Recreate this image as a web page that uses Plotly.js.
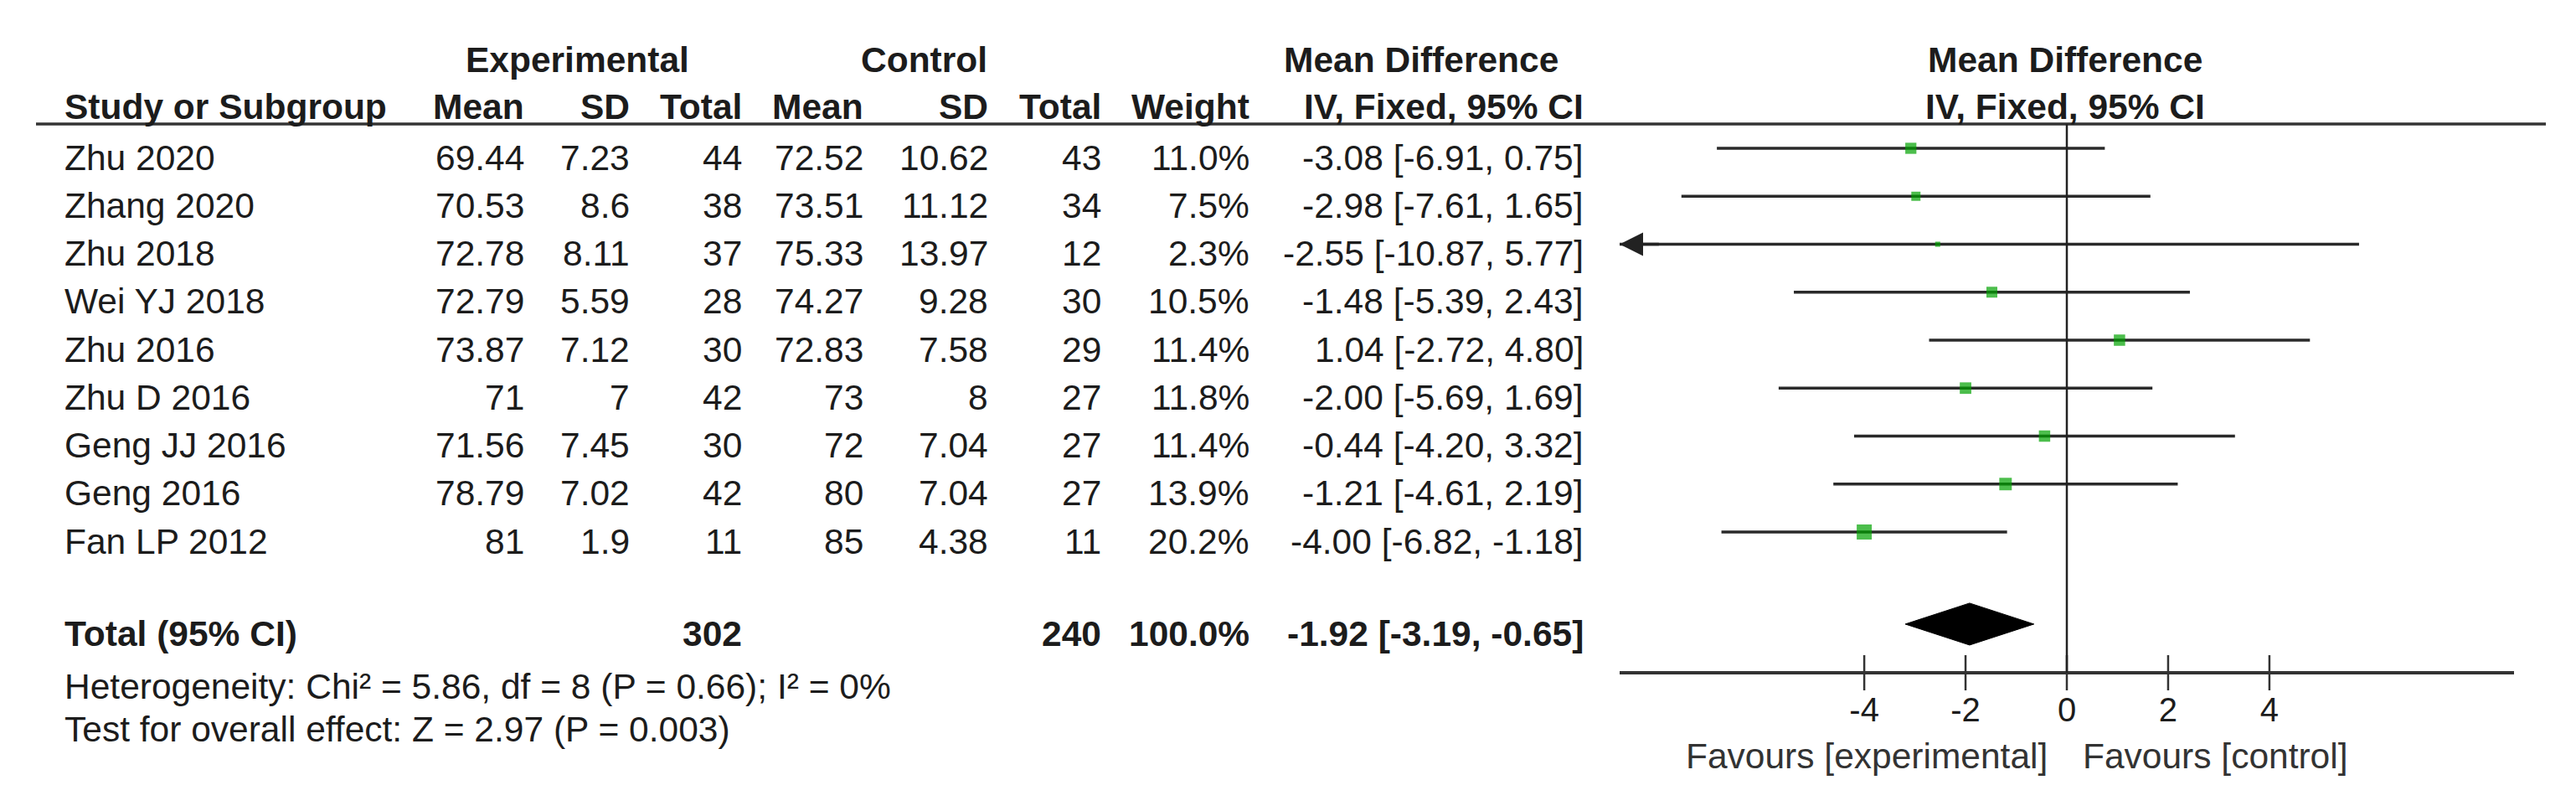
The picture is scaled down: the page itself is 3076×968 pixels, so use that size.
<!DOCTYPE html>
<html><head><meta charset="utf-8">
<script src="https://cdn.plot.ly/plotly-3.0.1.min.js"></script>
<style>html,body{margin:0;padding:0;background:#fff;} #chart{width:3076px;height:968px;}</style>
</head><body><div id="chart"></div>
<script>
// ---- data ----
const studies  = ["Zhu 2020","Zhang 2020","Zhu 2018","Wei YJ 2018","Zhu 2016","Zhu D 2016","Geng JJ 2016","Geng 2016","Fan LP 2012"];
const expMean  = [69.44, 70.53, 72.78, 72.79, 73.87, 71, 71.56, 78.79, 81];
const expSD    = [7.23, 8.6, 8.11, 5.59, 7.12, 7, 7.45, 7.02, 1.9];
const expN     = [44, 38, 37, 28, 30, 42, 30, 42, 11];
const ctrlMean = [72.52, 73.51, 75.33, 74.27, 72.83, 73, 72, 80, 85];
const ctrlSD   = [10.62, 11.12, 13.97, 9.28, 7.58, 8, 7.04, 7.04, 4.38];
const ctrlN    = [43, 34, 12, 30, 29, 27, 27, 27, 11];
const weights  = [11.0, 7.5, 2.3, 10.5, 11.4, 11.8, 11.4, 13.9, 20.2];
const md       = [-3.08, -2.98, -2.55, -1.48, 1.04, -2.00, -0.44, -1.21, -4.00];
const ciLo     = [-6.91, -7.61, -10.87, -5.39, -2.72, -5.69, -4.20, -4.61, -6.82];
const ciHi     = [0.75, 1.65, 5.77, 2.43, 4.80, 1.69, 3.32, 2.19, -1.18];
const totalExpN = 302, totalCtrlN = 240, totalWeight = 100.0;
const totalMD = -1.92, totalLo = -3.19, totalHi = -0.65;
const tickVals = [-4, -2, 0, 2, 4];
const tickLabels = ["-4", "-2", "0", "2", "4"];
const heterogeneityText = "Heterogeneity: Chi² = 5.86, df = 8 (P = 0.66); I² = 0%";
const overallText = "Test for overall effect: Z = 2.97 (P = 0.003)";

// ---- layout helpers ----
const W = 3076, H = 968;
const FONT = "Liberation Sans, Arial, sans-serif";
const FS = 42.5;
const ROW0 = 177, ROWH = 57.25;
const yTop = -ROW0 / ROWH, yBot = (H - ROW0) / ROWH;
const totalRow = 9.92;
const axisRow = (803 - ROW0) / ROWH;
const headerLineRow = (148 - ROW0) / ROWH;
const xRange = [-8.83, 8.83];
const TXT = "#1c1c1c";

const px = v => v / W;
const py = v => 1 - v / H;

const annotations = [];
function rowAnn(text, xpix, row, anchor, bold, shift) {
  annotations.push({
    text: bold ? "<b>" + text + "</b>" : text,
    xref: "paper", x: px(xpix), xanchor: anchor,
    yref: "y", y: row, yanchor: "middle", yshift: shift === undefined ? -11 : shift,
    showarrow: false, font: {family: FONT, size: FS, color: TXT}
  });
}
function pixAnn(text, xpix, ypix, anchor, bold, color) {
  annotations.push({
    text: bold ? "<b>" + text + "</b>" : text,
    xref: "paper", x: px(xpix), xanchor: anchor,
    yref: "paper", y: py(ypix), yanchor: "middle",
    showarrow: false, font: {family: FONT, size: FS, color: color || TXT}
  });
}

// column right edges (px)
const C = {study: 75, eMean: 628, eSD: 754, eN: 888, cMean: 1033, cSD: 1182, cN: 1317, wt: 1494, ci: 1893, forest: 2466};

// headers
pixAnn("Experimental", 689, 71, "center", true);
pixAnn("Control", 1103, 71, "center", true);
pixAnn("Mean Difference", 1697, 71, "center", true);
pixAnn("Mean Difference", C.forest, 71, "center", true);
pixAnn("Study or Subgroup", C.study, 127, "left", true);
pixAnn("Mean", C.eMean, 127, "right", true);
pixAnn("SD", C.eSD, 127, "right", true);
pixAnn("Total", C.eN, 127, "right", true);
pixAnn("Mean", C.cMean, 127, "right", true);
pixAnn("SD", C.cSD, 127, "right", true);
pixAnn("Total", C.cN, 127, "right", true);
pixAnn("Weight", C.wt, 127, "right", true);
pixAnn("IV, Fixed, 95% CI", C.ci, 127, "right", true);
pixAnn("IV, Fixed, 95% CI", C.forest, 127, "center", true);

const fmtCI = (m, l, h) => m.toFixed(2) + " [" + l.toFixed(2) + ", " + h.toFixed(2) + "]";

studies.forEach((s, i) => {
  rowAnn(s, C.study, i, "left");
  rowAnn(String(expMean[i]), C.eMean, i, "right");
  rowAnn(String(expSD[i]), C.eSD, i, "right");
  rowAnn(String(expN[i]), C.eN, i, "right");
  rowAnn(String(ctrlMean[i]), C.cMean, i, "right");
  rowAnn(String(ctrlSD[i]), C.cSD, i, "right");
  rowAnn(String(ctrlN[i]), C.cN, i, "right");
  rowAnn(weights[i].toFixed(1) + "%", C.wt, i, "right");
  rowAnn(fmtCI(md[i], ciLo[i], ciHi[i]), C.ci, i, "right");
});

// total row
rowAnn("Total (95% CI)", C.study, totalRow, "left", true, -12);
rowAnn(String(totalExpN), C.eN, totalRow, "right", true, -12);
rowAnn(String(totalCtrlN), C.cN, totalRow, "right", true, -12);
rowAnn(totalWeight.toFixed(1) + "%", C.wt, totalRow, "right", true, -12);
rowAnn(fmtCI(totalMD, totalLo, totalHi), C.ci, totalRow, "right", true, -12);

pixAnn(heterogeneityText, C.study, 819, "left");
pixAnn(overallText, C.study, 870, "left");
pixAnn("Favours [experimental]", 2447, 902, "right", false, "#333");
pixAnn("Favours [control]", 2485, 902, "left", false, "#333");

// arrows for CIs beyond the axis range
studies.forEach((s, i) => {
  if (ciLo[i] < xRange[0]) {
    annotations.push({
      x: xRange[0], y: i, xref: "x", yref: "y",
      ax: xRange[0] + 0.8, ay: i, axref: "x", ayref: "y",
      showarrow: true, arrowhead: 2, arrowsize: 1.6, arrowwidth: 3.5, arrowcolor: "#222",
      standoff: 0, text: ""
    });
  }
  if (ciHi[i] > xRange[1]) {
    annotations.push({
      x: xRange[1], y: i, xref: "x", yref: "y",
      ax: xRange[1] - 0.8, ay: i, axref: "x", ayref: "y",
      showarrow: true, arrowhead: 2, arrowsize: 1.6, arrowwidth: 3.5, arrowcolor: "#222",
      standoff: 0, text: ""
    });
  }
});

// ---- traces ----
const ciX = [], ciY = [];
studies.forEach((s, i) => { ciX.push(ciLo[i], ciHi[i], null); ciY.push(i, i, null); });

const traces = [
  { type: "scatter", mode: "lines", x: ciX, y: ciY, line: {color: "#2a2a2a", width: 3.5}, hoverinfo: "skip" },
  { type: "scatter", mode: "markers", x: md, y: studies.map((s, i) => i),
    marker: {symbol: "square", color: "#00a300", size: weights.map(w => 18 * Math.sqrt(w / 20.2)), line: {width: 0}},
    hoverinfo: "skip" },
  { type: "scatter", mode: "lines", fill: "toself", fillcolor: "#000",
    x: [totalLo, totalMD, totalHi, totalMD, totalLo],
    y: [totalRow, totalRow - 0.437, totalRow, totalRow + 0.437, totalRow],
    line: {color: "#000", width: 1}, hoverinfo: "skip" },
  { type: "scatter", mode: "markers", x: tickVals, y: tickVals.map(() => axisRow), cliponaxis: false,
    marker: {symbol: "line-ns", size: 30, line: {width: 2.5, color: "#333"}}, hoverinfo: "skip" }
];

const layout = {
  width: W, height: H,
  margin: {l: 0, r: 0, t: 0, b: 0},
  paper_bgcolor: "#fff", plot_bgcolor: "rgba(0,0,0,0)",
  showlegend: false,
  font: {family: FONT, size: FS, color: TXT},
  xaxis: {
    domain: [px(1934), px(3002)], range: xRange, anchor: "free", position: py(803),
    showline: true, linewidth: 4, linecolor: "#333",
    tickvals: tickVals, ticktext: tickLabels, ticks: "outside", ticklen: 8, tickwidth: 2.5, tickcolor: "#333",
    tickfont: {family: FONT, size: 40, color: TXT},
    showgrid: false, zeroline: false, automargin: false, fixedrange: true
  },
  yaxis: { domain: [0, 1], range: [yBot, yTop], visible: false, fixedrange: true },
  shapes: [
    { type: "line", xref: "paper", x0: px(43), x1: px(3040), yref: "y", y0: headerLineRow, y1: headerLineRow,
      line: {color: "#333", width: 3.5} },
    { type: "line", xref: "x", x0: 0, x1: 0, yref: "y", y0: headerLineRow, y1: axisRow,
      line: {color: "#222", width: 2.5} }
  ],
  annotations: annotations
};

Plotly.newPlot("chart", traces, layout, {staticPlot: true, displayModeBar: false});
</script>
</body></html>
